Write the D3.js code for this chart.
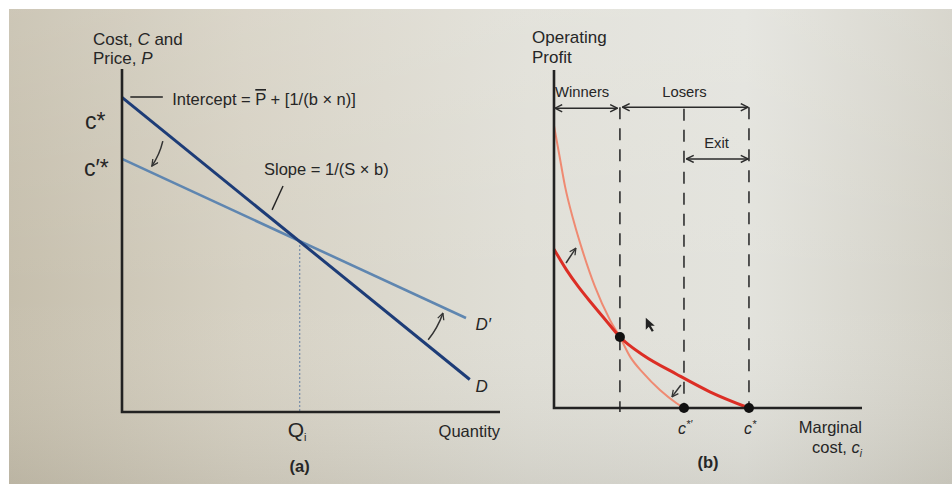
<!DOCTYPE html>
<html>
<head>
<meta charset="utf-8">
<script src="https://cdn.jsdelivr.net/npm/d3@7"></script>
<style>
  html, body { margin: 0; padding: 0; background: #fff; }
  svg text { font-family: "Liberation Sans", Arial, sans-serif; fill: #262626; }
</style>
</head>
<body>
<script>
const width = 952;
const height = 484;

// panel (a): demand lines, price vs quantity (arbitrary units 0..10)
const demandD = [{ q: 0, p: 9.2 }, { q: 9.2, p: 0.95 }];
const demandDPrime = [{ q: 0, p: 7.4 }, { q: 9.1, p: 2.75 }];
const qi = 4.7;

// panel (b): operating profit vs marginal cost
const profitBefore = [
  [0, 4.70], [0.41, 4.08], [0.79, 3.59], [1.22, 3.10], [1.66, 2.62],
  [2.14, 2.10], [2.90, 1.56], [3.98, 1.00], [5.06, 0.48], [6.33, 0]
];
const profitAfter = [
  [0, 8.35], [0.17, 7.50], [0.36, 6.55], [0.63, 5.56], [0.93, 4.64],
  [1.33, 3.59], [1.82, 2.60], [2.14, 2.10], [2.47, 1.52], [2.90, 1.03],
  [3.44, 0.53], [3.98, 0.14], [4.22, 0]
];
const winnerCut = 2.14;
const cStarPrime = 4.22;
const cStar = 6.33;

const svg = d3.select('body').append('svg')
  .attr('width', width)
  .attr('height', height);

// photo-like paper background
const defs = svg.append('defs');
const bg = defs.append('linearGradient').attr('id', 'paper')
  .attr('x1', '0%').attr('y1', '0%').attr('x2', '100%').attr('y2', '0%');
[['0%', '#c6bfad'], ['25%', '#d6d1c3'], ['55%', '#e0dfd7'], ['78%', '#e3e3dd'], ['100%', '#d3d1c7']]
  .forEach(s => bg.append('stop').attr('offset', s[0]).attr('stop-color', s[1]));
const shade = defs.append('linearGradient').attr('id', 'shade')
  .attr('x1', '0%').attr('y1', '0%').attr('x2', '0%').attr('y2', '100%');
shade.append('stop').attr('offset', '0%').attr('stop-color', '#ffffff').attr('stop-opacity', 0.12);
shade.append('stop').attr('offset', '60%').attr('stop-color', '#ffffff').attr('stop-opacity', 0);
shade.append('stop').attr('offset', '100%').attr('stop-color', '#6b6658').attr('stop-opacity', 0.12);

svg.append('rect').attr('width', width).attr('height', height).attr('fill', '#fff');
svg.append('rect').attr('x', 9).attr('y', 9).attr('width', width - 9).attr('height', height - 9).attr('fill', 'url(#paper)');
svg.append('rect').attr('x', 9).attr('y', 9).attr('width', width - 9).attr('height', height - 9).attr('fill', 'url(#shade)');

// arrowhead markers (open chevrons)
const marker = (id, color, size) => {
  defs.append('marker').attr('id', id)
    .attr('viewBox', '0 0 10 10').attr('refX', 9).attr('refY', 5)
    .attr('markerWidth', size).attr('markerHeight', size)
    .attr('markerUnits', 'userSpaceOnUse')
    .attr('orient', 'auto-start-reverse')
    .append('path').attr('d', 'M1,1 L9,5 L1,9')
    .attr('fill', 'none').attr('stroke', color).attr('stroke-width', 1.6);
};
marker('head', '#2b2b2b', 9);
marker('headSmall', '#333', 8);

// ---------- panel (a) ----------
const xa = d3.scaleLinear().domain([0, 10]).range([122, 500]);
const ya = d3.scaleLinear().domain([0, 10]).range([412, 70]);
const ga = svg.append('g');

const lineA = d3.line().x(d => xa(d.q)).y(d => ya(d.p));

ga.append('line')
  .attr('x1', xa(qi)).attr('x2', xa(qi))
  .attr('y1', ya(5.0)).attr('y2', ya(0))
  .attr('stroke', '#7f93ab').attr('stroke-width', 1.3).attr('stroke-dasharray', '2,2');

ga.append('path').datum(demandDPrime).attr('d', lineA)
  .attr('fill', 'none').attr('stroke', '#5f86b0').attr('stroke-width', 2.6);
ga.append('path').datum(demandD).attr('d', lineA)
  .attr('fill', 'none').attr('stroke', '#1d3c77').attr('stroke-width', 3);

// axes
ga.append('path').attr('d', `M${xa(0)},${ya(10.03)} V${ya(0)} H${xa(10)}`)
  .attr('fill', 'none').attr('stroke', '#222').attr('stroke-width', 2.6);

// leader lines
ga.append('line').attr('x1', xa(0.22)).attr('x2', xa(1.08)).attr('y1', ya(9.21)).attr('y2', ya(9.21))
  .attr('stroke', '#222').attr('stroke-width', 1.4);
ga.append('line').attr('x1', xa(3.97)).attr('y1', ya(5.91)).attr('x2', xa(4.26)).attr('y2', ya(6.61))
  .attr('stroke', '#222').attr('stroke-width', 1.4);

// shift arrows
const curvedArrow = (g, x, y, a, b, bend, markerId) => {
  const x1 = x(a[0]), y1 = y(a[1]), x2 = x(b[0]), y2 = y(b[1]);
  const mx = (x1 + x2) / 2, my = (y1 + y2) / 2;
  const dx = x2 - x1, dy = y2 - y1, len = Math.hypot(dx, dy);
  const cx = mx - dy / len * bend, cy = my + dx / len * bend;
  g.append('path').attr('d', `M${x1},${y1} Q${cx},${cy} ${x2},${y2}`)
    .attr('fill', 'none').attr('stroke', '#333').attr('stroke-width', 1.5)
    .attr('marker-end', `url(#${markerId})`);
};
curvedArrow(ga, xa, ya, [1.08, 7.92], [0.79, 7.19], -2.5, 'headSmall');
curvedArrow(ga, xa, ya, [8.10, 2.11], [8.49, 2.89], 2.5, 'headSmall');

// labels panel (a)
const ta = (x, y, s, opts = {}) => ga.append('text').attr('x', x).attr('y', y)
  .attr('font-size', opts.size || 16.5)
  .attr('font-style', opts.italic ? 'italic' : null)
  .attr('font-weight', opts.bold ? 'bold' : null)
  .attr('text-anchor', opts.anchor || 'start')
  .text(s);

const title1 = ta(93, 45, 'Cost, ', { size: 17 });
title1.append('tspan').attr('font-style', 'italic').text('C');
title1.append('tspan').text(' and');
const title2 = ta(93, 64, 'Price, ', { size: 17 });
title2.append('tspan').attr('font-style', 'italic').text('P');

ta(85, 129, 'c*', { size: 23 });
ta(84, 176, 'c′*', { size: 23 });

const icpt = ta(xa(1.33), 105, 'Intercept = ', { size: 16.5 });
icpt.append('tspan').attr('text-decoration', 'overline').text('P');
icpt.append('tspan').text(' + [1/(b × n)]');

ta(264, 175, 'Slope = 1/(S × b)', { size: 16.5 });

ta(xa(9.35), 330, 'D′', { size: 17, italic: true });
ta(xa(9.35), 392, 'D', { size: 17, italic: true });

const qLab = ta(xa(qi) - 12, 437, 'Q', { size: 21 });
qLab.append('tspan').attr('font-size', 11).attr('dy', 4).text('i');
ta(xa(10), 437, 'Quantity', { size: 16.5, anchor: 'end' });
ta(xa(qi), 472, '(a)', { size: 16.5, bold: true, anchor: 'middle' });

// ---------- panel (b) ----------
const xb = d3.scaleLinear().domain([0, 10]).range([554, 862]);
const yb = d3.scaleLinear().domain([0, 10]).range([408, 70]);
const gb = svg.append('g');

// dashed boundaries
[[winnerCut, 8.9], [cStarPrime, 8.85], [cStar, 8.9]].forEach(([c, top]) => {
  gb.append('line')
    .attr('x1', xb(c)).attr('x2', xb(c))
    .attr('y1', yb(top)).attr('y2', yb(-0.12))
    .attr('stroke', '#3a3a3a').attr('stroke-width', 1.7)
    .attr('stroke-dasharray', '12,9');
});

const curve = d3.line().x(d => xb(d[0])).y(d => yb(d[1])).curve(d3.curveMonotoneX);
gb.append('path').datum(profitAfter).attr('d', curve)
  .attr('fill', 'none').attr('stroke', '#ef8a72').attr('stroke-width', 2);
gb.append('path').datum(profitBefore).attr('d', curve)
  .attr('fill', 'none').attr('stroke', '#dc2e25').attr('stroke-width', 3);

// axes
gb.append('path').attr('d', `M${xb(0)},${yb(10)} V${yb(0)} H${xb(10)}`)
  .attr('fill', 'none').attr('stroke', '#222').attr('stroke-width', 2.6);

// range arrows
const spanArrow = (x0, x1, yv) => gb.append('line')
  .attr('x1', xb(x0) + 1).attr('x2', xb(x1) - 1)
  .attr('y1', yb(yv)).attr('y2', yb(yv))
  .attr('stroke', '#2b2b2b').attr('stroke-width', 1.5)
  .attr('marker-start', 'url(#head)').attr('marker-end', 'url(#head)');
spanArrow(0, winnerCut - 0.05, 8.87);
spanArrow(winnerCut + 0.05, cStar, 8.9);
spanArrow(cStarPrime + 0.05, cStar, 7.37);

// dots
[[winnerCut, 2.10], [cStarPrime, 0], [cStar, 0]].forEach(d => {
  gb.append('circle').attr('cx', xb(d[0])).attr('cy', yb(d[1])).attr('r', 5).attr('fill', '#111');
});

// shift arrows
curvedArrow(gb, xb, yb, [0.39, 4.29], [0.71, 4.73], 0, 'headSmall');
curvedArrow(gb, xb, yb, [4.12, 0.68], [3.83, 0.33], 0, 'headSmall');

// mouse pointer in the photo
gb.append('path')
  .attr('transform', `translate(${xb(2.98)},${yb(2.67)})`)
  .attr('d', 'M0,0 L0,12 L3,9 L6,14 L8,13 L5,8 L9,8 Z')
  .attr('fill', '#222');

// labels panel (b)
const tb = (x, y, s, opts = {}) => gb.append('text').attr('x', x).attr('y', y)
  .attr('font-size', opts.size || 15)
  .attr('font-style', opts.italic ? 'italic' : null)
  .attr('font-weight', opts.bold ? 'bold' : null)
  .attr('text-anchor', opts.anchor || 'start')
  .text(s);

tb(532, 43, 'Operating', { size: 17 });
tb(532, 63, 'Profit', { size: 17 });
tb(555, 97, 'Winners', { size: 14.8 });
tb(xb((winnerCut + cStar) / 2), 97, 'Losers', { size: 14.8, anchor: 'middle' });
tb(xb((cStarPrime + cStar) / 2), 148, 'Exit', { size: 14.8, anchor: 'middle' });

const cp = tb(xb(cStarPrime) - 6, 434, 'c', { size: 16, italic: true });
cp.append('tspan').attr('font-size', 11).attr('dy', -6).text('*′');
const cs = tb(xb(cStar) - 5, 434, 'c', { size: 16, italic: true });
cs.append('tspan').attr('font-size', 11).attr('dy', -6).text('*');

tb(xb(10), 433, 'Marginal', { size: 16.5, anchor: 'end' });
const mc = tb(xb(10), 453, 'cost, ', { size: 16.5, anchor: 'end' });
mc.append('tspan').attr('font-style', 'italic').text('c');
mc.append('tspan').attr('font-style', 'italic').attr('font-size', 10).attr('dy', 4).text('i');

tb(708, 468, '(b)', { size: 16.5, bold: true, anchor: 'middle' });
</script>
</body>
</html>
